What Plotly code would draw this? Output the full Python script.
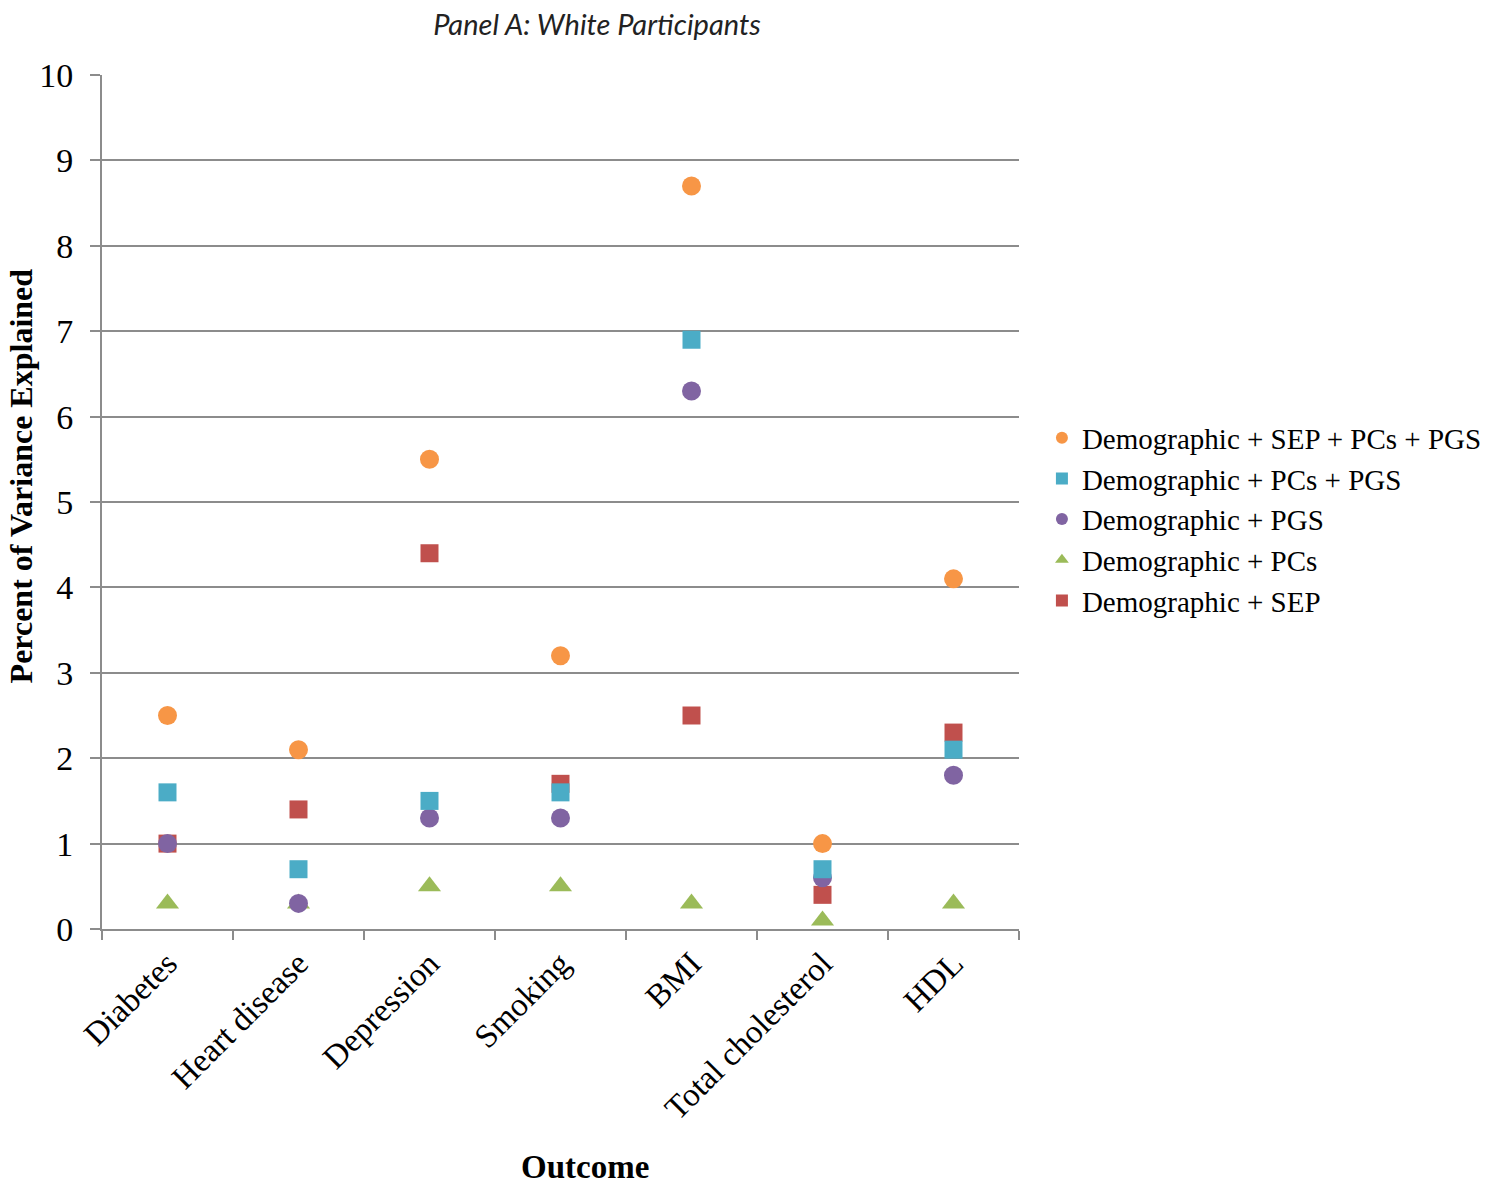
import plotly.graph_objects as go

categories = ["Diabetes", "Heart disease", "Depression", "Smoking", "BMI", "Total cholesterol", "HDL"]
y_ticks = [0, 1, 2, 3, 4, 5, 6, 7, 8, 9, 10]

demo_sep_pcs_pgs = [2.5, 2.1, 5.5, 3.2, 8.7, 1.0, 4.1]
demo_pcs_pgs = [1.6, 0.7, 1.5, 1.6, 6.9, 0.7, 2.1]
demo_pgs = [1.0, 0.3, 1.3, 1.3, 6.3, 0.6, 1.8]
demo_pcs = [0.3, 0.3, 0.5, 0.5, 0.3, 0.1, 0.3]
demo_sep = [1.0, 1.4, 4.4, 1.7, 2.5, 0.4, 2.3]

series = [
    ("Demographic + SEP + PCs + PGS", demo_sep_pcs_pgs, "#F79646", "circle", 19),
    ("Demographic + PCs + PGS", demo_pcs_pgs, "#4BACC6", "square", 18),
    ("Demographic + PGS", demo_pgs, "#8064A2", "circle", 19),
    ("Demographic + PCs", demo_pcs, "#9BBB59", "triangle-up", 20),
    ("Demographic + SEP", demo_sep, "#C0504D", "square", 18),
]

fig = go.Figure()
draw_order = [3, 4, 2, 1, 0]
for i in draw_order:
    name, vals, color, sym, size = series[i]
    fig.add_trace(go.Scatter(
        x=categories, y=vals, mode="markers", name=name,
        marker=dict(color=color, symbol=sym, size=size, line=dict(width=0)),
        legendrank=i + 1,
    ))

serif = "Liberation Serif, Times New Roman, serif"

fig.update_layout(
    width=1500, height=1188,
    paper_bgcolor="white", plot_bgcolor="white",
    margin=dict(l=94, r=489, t=67, b=267),
    font=dict(family=serif, size=26, color="black"),
    title=dict(text="<i>Panel A: White Participants</i>", x=589 / 1500, xanchor="center",
               y=1 - 17 / 1188, yanchor="middle",
               font=dict(family="Lato, sans-serif", size=29, color="#222")),
    showlegend=True,
    legend=dict(x=1.025, y=0.605, xanchor="left", yanchor="top",
                font=dict(family=serif, size=29, color="black"),
                itemsizing="constant", tracegroupgap=0, bgcolor="rgba(0,0,0,0)",
                traceorder="normal", itemwidth=30),
    annotations=[
        dict(text="<b>Percent of Variance Explained</b>", textangle=-90, xref="paper", yref="paper",
             x=-0.0883, y=0.530, xanchor="center", yanchor="middle", showarrow=False,
             font=dict(family=serif, size=32, color="black")),
        dict(text="<b>Outcome</b>", xref="paper", yref="paper",
             x=0.527, y=-0.279, xanchor="center", yanchor="middle", showarrow=False,
             font=dict(family=serif, size=33, color="black")),
    ],
)

fig.update_xaxes(
    type="category", categoryorder="array", categoryarray=categories,
    range=[-0.5, 6.5], showgrid=False, showline=True, linecolor="#8c8c8c", linewidth=2,
    ticks="outside", tickson="boundaries", ticklen=9, tickcolor="#8c8c8c", tickwidth=2,
    tickangle=-45, tickfont=dict(family=serif, size=33, color="black"),
    zeroline=False,
)
fig.update_yaxes(
    range=[0, 10], tickvals=y_ticks, showgrid=True, gridcolor="#8c8c8c", gridwidth=2,
    showline=True, linecolor="#8c8c8c", linewidth=2,
    ticks="outside", ticklen=10, tickcolor="#8c8c8c", tickwidth=2,
    tickfont=dict(family=serif, size=34, color="black"), ticklabelstandoff=10,
    zeroline=False,
)

fig.write_html("out.html")
